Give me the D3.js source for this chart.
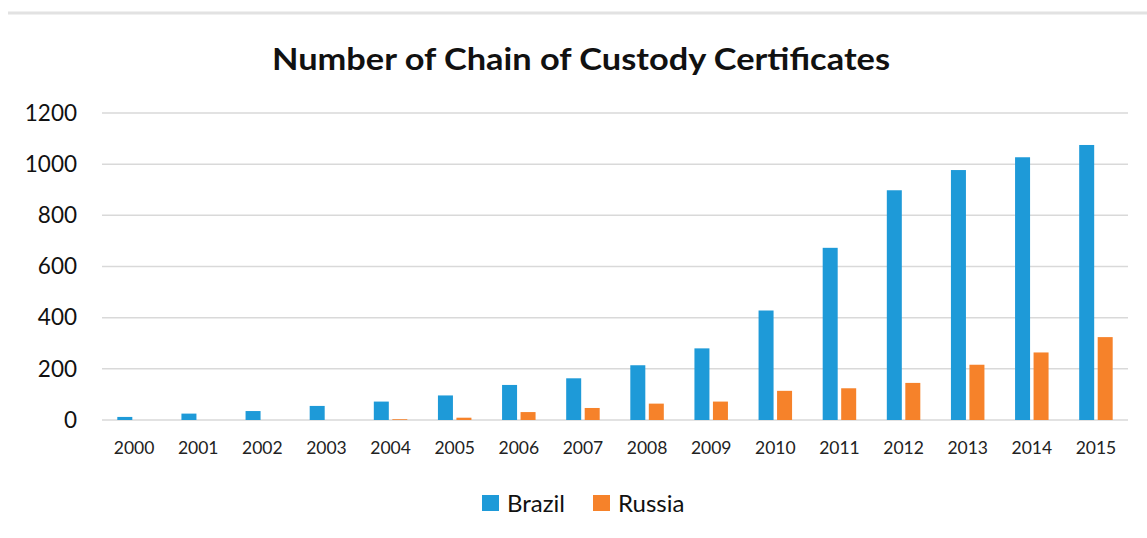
<!DOCTYPE html>
<html>
<head>
<meta charset="utf-8">
<script src="https://cdn.jsdelivr.net/npm/d3@7"></script>
<style>
  body { margin: 0; background: #fff; }
  svg { display: block; font-family: "Lato", "Open Sans", sans-serif; }
</style>
</head>
<body>
<svg id="chart" width="1147" height="538"></svg>
<script>
// chart values
var years = ["2000", "2001", "2002", "2003", "2004", "2005", "2006", "2007",
             "2008", "2009", "2010", "2011", "2012", "2013", "2014", "2015"];
var brazil = [12, 25, 35, 55, 72, 96, 137, 163, 214, 280, 428, 673, 898, 977, 1027, 1075];
var russia = [0, 0, 0, 0, 3, 9, 31, 47, 64, 72, 114, 124, 145, 216, 264, 324];
var yTicks = [0, 200, 400, 600, 800, 1000, 1200];
var seriesNames = ["Brazil", "Russia"];
var colors = ["#1e9ad8", "#f6822a"];

var svg = d3.select("#chart");
var margin = {top: 113, left: 102, right: 19, bottom: 118};
var width = 1147 - margin.left - margin.right;
var height = 538 - margin.top - margin.bottom;

// light frame line at the top of the picture
svg.append("line")
  .attr("x1", 8).attr("x2", 1147)
  .attr("y1", 13).attr("y2", 13)
  .attr("stroke", "#e2e2e2").attr("stroke-width", 3);

svg.append("text")
  .attr("x", 581).attr("y", 70)
  .attr("text-anchor", "middle")
  .attr("font-size", 30).attr("font-weight", "bold")
  .attr("fill", "#111")
  .attr("textLength", 618).attr("lengthAdjust", "spacingAndGlyphs")
  .text("Number of Chain of Custody Certificates");

var g = svg.append("g").attr("transform", "translate(" + margin.left + "," + margin.top + ")");

var x = d3.scaleBand().domain(years).range([0, width]).paddingInner(0).paddingOuter(0);
var y = d3.scaleLinear().domain([0, 1200]).range([height, 0]);

// gridlines
g.selectAll(".grid").data(yTicks).enter().append("line")
  .attr("class", "grid")
  .attr("x1", 0).attr("x2", width)
  .attr("y1", function(d) { return y(d); })
  .attr("y2", function(d) { return y(d); })
  .attr("stroke", "#d9d9d9").attr("stroke-width", 1.5);

// y axis labels
var yAxis = g.append("g").call(d3.axisLeft(y).tickValues(yTicks).tickFormat(d3.format("d"))
  .tickSize(0).tickPadding(25));
yAxis.select(".domain").remove();
yAxis.selectAll("text").attr("font-size", 22.5).attr("fill", "#111")
  .attr("font-family", "Lato, 'Open Sans', sans-serif");

// x axis labels
var xAxis = g.append("g").attr("transform", "translate(0," + height + ")")
  .call(d3.axisBottom(x).tickSize(0).tickPadding(22));
xAxis.select(".domain").remove();
xAxis.selectAll("text").attr("font-size", 17.5).attr("fill", "#222")
  .attr("font-family", "Lato, 'Open Sans', sans-serif");

var barW = 15, gap = 3.5;
var data = years.map(function(yr, i) { return {year: yr, vals: [brazil[i], russia[i]]}; });

var groups = g.selectAll(".yr").data(data).enter().append("g")
  .attr("class", "yr")
  .attr("transform", function(d) { return "translate(" + (x(d.year) + x.bandwidth() / 2) + ",0)"; });

groups.selectAll("rect")
  .data(function(d) { return d.vals; })
  .enter().append("rect")
  .attr("x", function(d, i) { return i === 0 ? -barW - gap / 2 : gap / 2; })
  .attr("width", barW)
  .attr("y", function(d) { return y(d); })
  .attr("height", function(d) { return height - y(d); })
  .attr("fill", function(d, i) { return colors[i]; });

// legend
var legendX = [482, 593];
var legend = svg.selectAll(".leg").data(seriesNames).enter().append("g")
  .attr("class", "leg")
  .attr("transform", function(d, i) { return "translate(" + legendX[i] + ",495)"; });
legend.append("rect").attr("width", 17).attr("height", 16)
  .attr("fill", function(d, i) { return colors[i]; });
legend.append("text").attr("x", 25).attr("y", 17)
  .attr("font-size", 24).attr("fill", "#111")
  .text(function(d) { return d; });
</script>
</body>
</html>
